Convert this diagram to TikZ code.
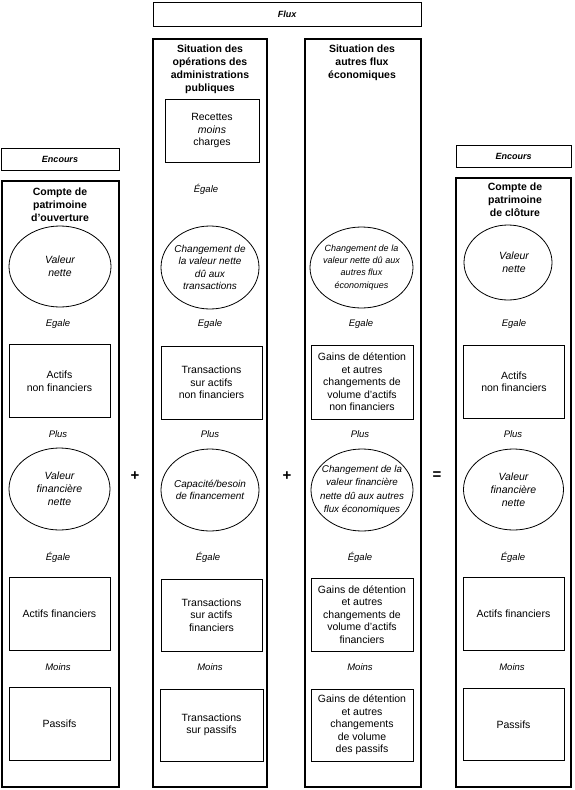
\documentclass[tikz,border=0pt]{standalone}
\usepackage{fontspec}
\setmainfont{Liberation Sans}
\usetikzlibrary{shapes.geometric}
\newcommand{\fsz}[2]{\fontsize{#1}{#2}\selectfont}
\tikzset{
  colbox/.style={draw, line width=2.6pt},
  hdr/.style={draw, line width=0.8pt, inner sep=0pt, font=\fsz{9}{11}\bfseries\itshape},
  ttl/.style={inner sep=0pt, align=center, anchor=north, font=\fsz{10.5}{13}\bfseries},
  bx/.style={draw, line width=0.8pt, rectangle, inner sep=0pt, align=center, font=\fsz{10.5}{12.5}},
  ell/.style={draw, ellipse, line width=0.8pt, inner sep=0pt},
  etx/.style={inner sep=0pt, align=center, font=\fsz{10.5}{12.8}\itshape},
  lab/.style={inner sep=0pt, font=\fsz{9.5}{11}\itshape},
  op/.style={inner sep=0pt, font=\fsz{15}{15}\bfseries}
}
\begin{document}
\begin{tikzpicture}[x=1pt,y=-1pt]
\useasboundingbox (0,0) rectangle (574,790);
% headers
\node[hdr, minimum width=268pt, minimum height=24pt] (flux) at (287,14) {Flux};
\node[hdr, minimum width=118pt, minimum height=22pt] (encL) at (60,159) {Encours};
\node[hdr, minimum width=115pt, minimum height=22pt] (encR) at (513.5,156) {Encours};
% columns
\draw[colbox] (2,181) rectangle (119,787);
\draw[colbox] (153,39) rectangle (267,787);
\draw[colbox] (305,39) rectangle (421,787);
\draw[colbox] (456,178) rectangle (571,787);
% column 1
\node[ttl] (t1) at (60,188) {Compte de\\patrimoine\\d’ouverture};
\node[ell, minimum width=102pt, minimum height=81pt] (e1a) at (60,266.5) {};
\node[etx] (e1at) at (e1a.center) {Valeur\\nette};
\node[lab] (l1a) at (58,324) {Egale};
\node[bx, minimum width=101pt, minimum height=73pt] (b1a) at (59.5,381) {Actifs\\non financiers};
\node[lab] (l1b) at (58,434) {Plus};
\node[ell, minimum width=101pt, minimum height=82pt] (e1b) at (59.5,489) {};
\node[etx] (e1bt) at (e1b.center) {Valeur\\financière\\nette};
\node[lab] (l1c) at (58,557) {Égale};
\node[bx, minimum width=101pt, minimum height=73pt] (b1b) at (59.5,614) {Actifs financiers};
\node[lab] (l1d) at (58,667) {Moins};
\node[bx, minimum width=101pt, minimum height=73pt] (b1c) at (59.5,724) {Passifs};
% column 2
\node[ttl] (t2) at (210,44.5) {Situation des\\opérations des\\administrations\\publiques};
\node[bx, minimum width=94pt, minimum height=63pt] (b2r) at (212,130.5) {Recettes\\\textit{moins}\\charges};
\node[lab] (l2r) at (206,189) {Égale};
\node[ell, minimum width=98pt, minimum height=83pt] (e2a) at (210,267.5) {};
\node[etx, font=\fsz{10}{12.5}\itshape] (e2at) at (e2a.center) {Changement de\\la valeur nette\\dû aux\\transactions};
\node[lab] (l2a) at (210,324) {Egale};
\node[bx, minimum width=101pt, minimum height=73pt] (b2a) at (211.5,382.5) {Transactions\\sur actifs\\non financiers};
\node[lab] (l2b) at (210,434) {Plus};
\node[ell, minimum width=98pt, minimum height=82pt] (e2b) at (210,490) {};
\node[etx, font=\fsz{10}{12.5}\itshape] (e2bt) at (e2b.center) {Capacité/besoin\\de financement};
\node[lab] (l2c) at (208,557) {Égale};
\node[bx, minimum width=101pt, minimum height=72pt] (b2b) at (211.5,615) {Transactions\\sur actifs\\financiers};
\node[lab] (l2d) at (210,667) {Moins};
\node[bx, minimum width=103pt, minimum height=72pt] (b2c) at (211.5,725) {Transactions\\sur passifs};
% column 3
\node[ttl] (t3) at (362,44.5) {Situation des\\autres flux\\économiques};
\node[ell, minimum width=103pt, minimum height=81pt] (e3a) at (361.5,267.5) {};
\node[etx, font=\fsz{9}{12.3}\itshape] (e3at) at (e3a.center) {Changement de la\\valeur nette dû aux\\autres flux\\économiques};
\node[lab] (l3a) at (361,324) {Egale};
\node[bx, minimum width=102pt, minimum height=74pt] (b3a) at (362,382) {Gains de détention\\et autres\\changements de\\volume d'actifs\\non financiers};
\node[lab] (l3b) at (360,434) {Plus};
\node[ell, minimum width=102pt, minimum height=82pt] (e3b) at (362,490) {};
\node[etx, font=\fsz{9.8}{13.5}\itshape] (e3bt) at (e3b.center) {Changement de la\\valeur financière\\nette dû aux autres\\flux économiques};
\node[lab] (l3c) at (360,557) {Égale};
\node[bx, minimum width=102pt, minimum height=73pt] (b3b) at (362,614.5) {Gains de détention\\et autres\\changements de\\volume d'actifs\\financiers};
\node[lab] (l3d) at (360,667) {Moins};
\node[bx, minimum width=102pt, minimum height=72pt] (b3c) at (362,725) {Gains de détention\\et autres\\changements\\de volume\\des passifs};
% column 4
\node[ttl] (t4) at (515,183) {Compte de\\patrimoine\\de clôture};
\node[ell, minimum width=88pt, minimum height=75pt] (e4a) at (508,262.5) {};
\node[etx] (e4at) at (514,262.5) {Valeur\\nette};
\node[lab] (l4a) at (514,324) {Egale};
\node[bx, minimum width=101pt, minimum height=73pt] (b4a) at (514,381.5) {Actifs\\non financiers};
\node[lab] (l4b) at (513,434) {Plus};
\node[ell, minimum width=100pt, minimum height=81pt] (e4b) at (513.5,489.5) {};
\node[etx] (e4bt) at (e4b.center) {Valeur\\financière\\nette};
\node[lab] (l4c) at (513,557) {Égale};
\node[bx, minimum width=101pt, minimum height=73pt] (b4b) at (513.5,614) {Actifs financiers};
\node[lab] (l4d) at (512,667) {Moins};
\node[bx, minimum width=101pt, minimum height=72pt] (b4c) at (513.5,724.5) {Passifs};
% operators
\node[op] (p1) at (135,476) {+};
\node[op] (p2) at (287,476) {+};
\node[op] (eq) at (437,476) {=};
\end{tikzpicture}
\end{document}
